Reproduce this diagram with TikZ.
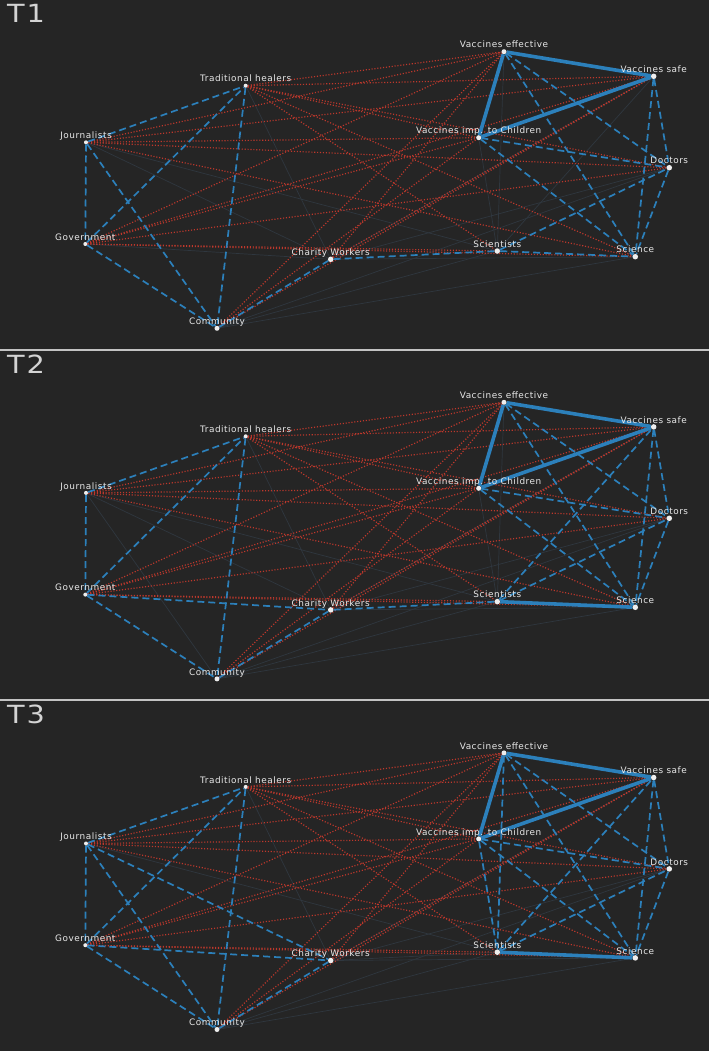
\documentclass[tikz,border=0pt]{standalone}
\usepackage{fontspec}
\setmainfont{DejaVu Sans}
\newfontfamily\lblfont[LetterSpace=6]{DejaVu Sans}
\newfontfamily\ttlfont[FakeStretch=1.15,LetterSpace=8]{DejaVu Sans}
\definecolor{bgc}{RGB}{37,37,37}
\definecolor{posc}{RGB}{44,128,187}
\definecolor{negc}{RGB}{190,56,44}
\definecolor{weakc}{RGB}{47,55,63}
\definecolor{lblc}{RGB}{232,232,232}
\definecolor{dotc}{RGB}{238,238,238}
\definecolor{ttlc}{RGB}{212,212,212}
\definecolor{sepc}{RGB}{195,195,195}
\pgfdeclarelayer{back}
\pgfdeclarelayer{edges}
\pgfsetlayers{back,edges,main}
\tikzset{
  vdot/.style={circle, fill=dotc, inner sep=0pt, draw=none},
  lbl/.style={text=lblc, font={\lblfont\fontsize{8.9}{10}\selectfont}, anchor=base, inner sep=0pt},
  ttl/.style={text=ttlc, font={\ttlfont\fontsize{25}{28}\selectfont}, anchor=base west, inner sep=0pt},
  strongedge/.style={draw=posc, line width=3.6pt},
  posedge/.style={draw=posc, line width=1.7pt, dash pattern=on 7pt off 4pt},
  negedge/.style={draw=negc, line width=1.2pt, dash pattern=on 1.1pt off 1.8pt},
  weakedge/.style={draw=weakc, line width=0.7pt},
  sepline/.style={draw=sepc, line width=1.8pt}
}
\newcommand\neglist{TH/VE,TH/VS,TH/VIC,TH/D,TH/S,TH/Sc,J/VE,J/VS,J/VIC,J/D,J/S,G/VE,G/VS,G/VIC,G/D,G/S,G/Sc,C/VE,C/VIC,C/VS,CW/VE,CW/VS}
\newcommand\drawpanel[6]{%
  \begin{scope}[yshift=-#1pt]
    \foreach \n/\x/\y/\s/\t in {TH/245.7/85.7/4/Traditional healers,
        J/86/142.3/4/Journalists,
        G/85.3/244/4/Government,
        CW/330.7/259.3/5.5/Charity Workers,
        C/217/328.3/5/Community,
        VE/504/51.7/5/Vaccines effective,
        VS/653.7/76.3/5.5/Vaccines safe,
        VIC/478.7/137.7/5/Vaccines imp. to Children,
        D/669.3/167.7/5.5/Doctors,
        Sc/497.3/251/5.5/Scientists,
        S/635.3/256.7/5.5/Science}
    {\node[vdot, minimum size=\s pt] (#2\n) at (\x,\y) {};
     \node[lbl] (#2\n lab) at (\x,\y-3.8) {\t};}
    \node[ttl] (#2ttl) at (7,22.5) {#3};
  \end{scope}
  \begin{pgfonlayer}{edges}
    \foreach \a/\b in {#6} \draw[weakedge] (#2\a) -- (#2\b);
    \foreach \a/\b in \neglist \draw[negedge] (#2\a) -- (#2\b);
    \foreach \a/\b in {#5} \draw[posedge] (#2\a) -- (#2\b);
    \foreach \a/\b in {#4} \draw[strongedge] (#2\a) -- (#2\b);
  \end{pgfonlayer}
}
\begin{document}
\begin{tikzpicture}[x=1pt,y=-1pt]
\useasboundingbox (0,0) rectangle (709,1051);
\begin{pgfonlayer}{back}
  \fill[bgc] (0,0) rectangle (709,1051);
\end{pgfonlayer}
\drawpanel{0}{a}{T1}
  {VE/VS,VE/VIC,VIC/VS}
  {J/TH,J/G,J/C,G/TH,G/C,TH/C,C/CW,CW/Sc,Sc/S,Sc/D,VE/D,VE/S,VIC/D,VIC/S,VS/D,VS/S,D/S}
  {TH/CW,J/CW,J/Sc,G/CW,C/Sc,C/S,C/D,CW/S,CW/D,CW/VS,VE/Sc,VIC/Sc,Sc/VS}
\drawpanel{350.6}{b}{T2}
  {VE/VS,VE/VIC,VIC/VS,Sc/S}
  {J/TH,J/G,G/TH,G/C,TH/C,G/CW,C/CW,CW/Sc,Sc/D,Sc/VS,VE/D,VE/S,VIC/D,VIC/S,VS/D,VS/S,D/S}
  {TH/CW,J/CW,J/C,J/Sc,C/Sc,C/S,C/D,CW/S,CW/D,CW/VS,VE/Sc,VIC/Sc}
\drawpanel{701.2}{c}{T3}
  {VE/VS,VE/VIC,VIC/VS,Sc/S}
  {J/TH,J/G,J/C,J/CW,G/TH,G/C,G/CW,TH/C,C/CW,VIC/Sc,VE/Sc,Sc/VS,Sc/D,VE/D,VE/S,VIC/D,VIC/S,VS/D,VS/S,D/S}
  {TH/CW,J/Sc,C/Sc,C/S,C/D,CW/Sc,CW/S,CW/D,CW/VS}
\draw[sepline] (0,349.6) -- (709,349.6);
\draw[sepline] (0,700.2) -- (709,700.2);
\end{tikzpicture}
\end{document}
